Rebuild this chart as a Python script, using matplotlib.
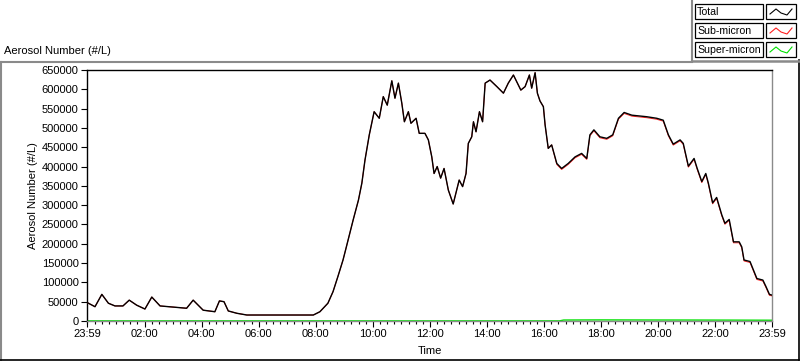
import numpy as np
import matplotlib
matplotlib.use('Agg')
import matplotlib.pyplot as plt
from matplotlib.lines import Line2D
from matplotlib.patches import Rectangle

plt.rcParams['font.family'] = ['Liberation Sans', 'DejaVu Sans']
plt.rcParams['font.size'] = 8

# hours elapsed since 23:59 (start of record)
hours = [0.00, 0.28, 0.52, 0.75, 0.98, 1.26, 1.48, 1.74, 2.03, 2.27,
         2.56, 3.49, 3.72, 4.07, 4.48, 4.64, 4.80, 4.95, 5.25, 5.60,
         7.93, 8.16, 8.44, 8.62, 8.79, 8.97, 9.06, 9.33, 9.51, 9.63,
         9.74, 9.89, 10.06, 10.24, 10.38, 10.52, 10.68, 10.79, 10.91, 11.03,
         11.12, 11.26, 11.35, 11.53, 11.64, 11.84, 11.96, 12.08, 12.16, 12.27,
         12.39, 12.51, 12.66, 12.83, 13.04, 13.16, 13.28, 13.36, 13.48, 13.54,
         13.63, 13.75, 13.86, 13.95, 14.12, 14.36, 14.59, 14.76, 14.94, 15.20,
         15.35, 15.50, 15.58, 15.70, 15.78, 15.87, 15.99, 16.05, 16.16, 16.28,
         16.46, 16.63, 16.86, 17.10, 17.33, 17.51, 17.62, 17.76, 17.97, 18.21,
         18.42, 18.62, 18.82, 19.09, 19.61, 19.96, 20.19, 20.37, 20.54, 20.78,
         20.89, 21.07, 21.27, 21.38, 21.54, 21.68, 21.77, 21.92, 22.06, 22.24,
         22.35, 22.50, 22.65, 22.85, 22.94, 23.02, 23.23, 23.47, 23.68, 23.79,
         23.91, 24.00]

total = [48000, 37000, 69000, 46000, 39000, 39000, 54000, 41000, 31000, 62000,
         39000, 33000, 54000, 28000, 24000, 52000, 50000, 26000, 20000, 15500,
         15500, 24000, 46000, 76000, 115000, 158000, 184000, 263000, 313000, 357000,
         417000, 482000, 542000, 525000, 581000, 559000, 622000, 577000, 616000, 564000,
         516000, 542000, 512000, 525000, 486000, 486000, 469000, 425000, 382000, 400000,
         370000, 395000, 339000, 303000, 365000, 348000, 382000, 460000, 477000, 516000,
         490000, 542000, 516000, 616000, 624000, 607000, 590000, 616000, 637000, 598000,
         607000, 637000, 603000, 643000, 590000, 570000, 555000, 508000, 447000, 456000,
         408000, 395000, 408000, 425000, 434000, 421000, 482000, 495000, 477000, 473000,
         482000, 525000, 540000, 533000, 529000, 525000, 520000, 482000, 458000, 469000,
         460000, 401000, 421000, 395000, 361000, 382000, 357000, 306000, 320000, 275000,
         253000, 263000, 205000, 205000, 192000, 158000, 154000, 110000, 106000, 89000,
         69000, 67000]

sub_micron = [48000, 37000, 69000, 46000, 39000, 39000, 54000, 41000, 31000, 62000,
              39000, 33000, 54000, 28000, 24000, 52000, 50000, 26000, 20000, 15500,
              15500, 24000, 46000, 76000, 115000, 158000, 184000, 263000, 313000, 357000,
              417000, 482000, 542000, 525000, 581000, 559000, 622000, 577000, 616000, 564000,
              516000, 542000, 512000, 525000, 486000, 486000, 469000, 425000, 382000, 400000,
              370000, 395000, 339000, 303000, 365000, 348000, 382000, 460000, 477000, 516000,
              490000, 542000, 516000, 616000, 624000, 607000, 590000, 616000, 637000, 598000,
              607000, 637000, 603000, 643000, 590000, 570000, 555000, 508000, 447000, 456000,
              405500, 392500, 405500, 422500, 431500, 418500, 479500, 492500, 474500, 470500,
              479500, 522500, 537500, 530500, 526500, 522500, 517500, 479500, 455500, 466500,
              457500, 398500, 418500, 392500, 358500, 379500, 354500, 303500, 317500, 272500,
              250500, 260500, 202500, 202500, 189500, 155500, 151500, 107500, 103500, 86500,
              66500, 65000]

super_hours = [0.0, 16.55, 16.70, 18.0, 19.5, 21.0, 22.5, 24.0]
super_micron = [300, 300, 2500, 2800, 2600, 2500, 2300, 2000]

tick_hours = [0.0, 2.0167, 4.0167, 6.0167, 8.0167, 10.0167, 12.0167,
              14.0167, 16.0167, 18.0167, 20.0167, 22.0167, 24.0]
tick_labels = ['23:59', '02:00', '04:00', '06:00', '08:00', '10:00', '12:00',
               '14:00', '16:00', '18:00', '20:00', '22:00', '23:59']
y_ticks = list(range(0, 650001, 50000))

W, H = 800, 361
fig = plt.figure(figsize=(W / 100, H / 100), dpi=100)
fig.patch.set_facecolor('white')

def fx(px):
    return px / W

def fy(py):
    return 1 - py / H

ax = fig.add_axes([fx(87), fy(321), (772 - 87) / W, (321 - 70) / H])
ax.plot(super_hours, super_micron, color='#00e000', lw=1.0, zorder=2)
ax.plot(hours, sub_micron, color='#ff2020', lw=0.7, zorder=3)
ax.plot(hours, total, color='black', lw=1.0, zorder=4)

ax.set_xlim(0, 24)
ax.set_ylim(0, 650000)
ax.set_xticks(tick_hours)
ax.set_xticklabels(tick_labels)
ax.set_xticks(np.arange(0.0167, 24, 0.25), minor=True)
ax.set_yticks(y_ticks)
ax.set_yticklabels([str(v) for v in y_ticks])
ax.tick_params(axis='both', which='major', direction='out', length=4, width=0.8,
               pad=2, labelsize=8)
ax.tick_params(axis='x', which='minor', direction='out', length=2.5, width=0.8)
ax.set_xlabel('Time', fontsize=8, labelpad=5)
ax.set_ylabel('Aerosol Number (#/L)', fontsize=8, labelpad=3)
for side in ['left', 'top']:
    ax.spines[side].set_color('black')
    ax.spines[side].set_linewidth(1.0)
for side in ['right', 'bottom']:
    ax.spines[side].set_color('#8a8a8a')
    ax.spines[side].set_linewidth(1.0)

# title above panel
fig.text(fx(4), fy(51), 'Aerosol Number (#/L)', fontsize=8, va='center', ha='left')

# panel frame
gray = '#8a8a8a'
fig.add_artist(Line2D([fx(0), fx(692)], [fy(62), fy(62)], color=gray, lw=1.5))
fig.add_artist(Line2D([fx(1), fx(1)], [fy(62), fy(360)], color=gray, lw=1.5))
fig.add_artist(Line2D([fx(0), fx(799)], [fy(359.5), fy(359.5)], color='black', lw=1.2))
fig.add_artist(Line2D([fx(798.5), fx(798.5)], [fy(60), fy(360)], color='black', lw=1.2))
fig.add_artist(Line2D([fx(692), fx(692)], [fy(0), fy(61)], color=gray, lw=1.5))
fig.add_artist(Line2D([fx(692), fx(800)], [fy(60.5), fy(60.5)], color=gray, lw=1.8))

# legend
legend_names = ['Total', 'Sub-micron', 'Super-micron']
legend_colors = ['black', '#ff2020', '#00e000']
row_tops = [4, 23, 42]
for name, col, top in zip(legend_names, legend_colors, row_tops):
    h = 15
    fig.add_artist(Rectangle((fx(695), fy(top + h)), (763 - 695) / W, h / H,
                             facecolor='white', edgecolor='black', lw=0.9))
    fig.text(fx(697), fy(top + h / 2 + 0.5), name, fontsize=7.6, va='center', ha='left')
    fig.add_artist(Rectangle((fx(766), fy(top + h)), (796 - 766) / W, h / H,
                             facecolor='white', edgecolor='black', lw=0.9))
    zx = [770, 776, 781, 787, 792]
    zy = [top + 10, top + 5, top + 9, top + 11, top + 5]
    fig.add_artist(Line2D([fx(v) for v in zx], [fy(v) for v in zy], color=col, lw=0.8))

fig.savefig('out.png', dpi=100)
